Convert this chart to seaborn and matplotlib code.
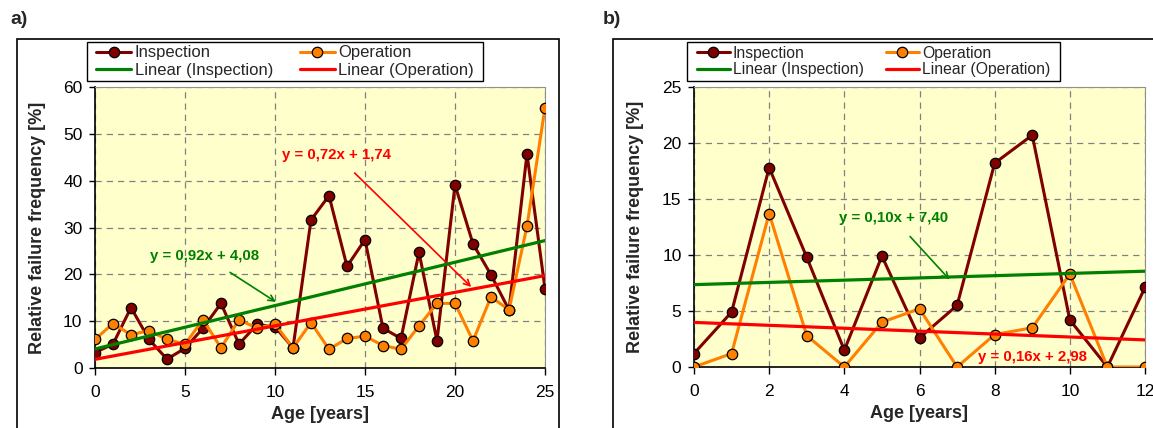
import numpy as np
import seaborn as sns
import matplotlib.pyplot as plt
from matplotlib.patches import Rectangle

sns.set_style('white')
plt.rcParams['font.family'] = ['Liberation Sans', 'DejaVu Sans']

# panel a) data
ages_a = list(range(26))
insp_a = [3.3, 5.1, 12.9, 6.1, 1.9, 4.2, 8.5, 13.8, 5.1, 9.3, 8.8, 4.3, 31.6,
          36.8, 21.7, 27.4, 8.5, 6.3, 24.7, 5.8, 39.1, 26.5, 19.9, 12.4, 45.7, 16.9]
oper_a = [6.1, 9.5, 7.1, 8.0, 6.1, 5.1, 10.3, 4.3, 10.3, 8.5, 9.4, 4.3, 9.7,
          4.0, 6.3, 6.8, 4.8, 4.0, 9.0, 13.8, 13.8, 5.8, 15.2, 12.4, 30.3, 55.6]

# panel b) data
ages_b = list(range(13))
insp_b = [1.2, 4.9, 17.8, 9.8, 1.5, 9.9, 2.6, 5.5, 18.2, 20.7, 4.2, 0.0, 7.1]
oper_b = [0.0, 1.2, 13.7, 2.8, 0.0, 4.0, 5.2, 0.0, 2.9, 3.5, 8.3, 0.0, 0.0]

eq_a = ['y = 0,92x + 4,08', 'y = 0,72x + 1,74']
eq_b = ['y = 0,10x + 7,40', 'y = 0,16x + 2,98']

c_insp = '#800000'
c_oper = '#FF7F00'
c_lin_insp = '#008000'
c_lin_oper = '#FF0000'

fig = plt.figure(figsize=(11.53, 4.28), dpi=100)
W, H = 1153, 428

def px(x0, y0, x1, y1):
    return [x0 / W, 1 - y1 / H, (x1 - x0) / W, (y1 - y0) / H]

# panel frames
for x0, x1 in [(17, 559), (613, 1160)]:
    fig.patches.append(Rectangle((x0 / W, -0.05), (x1 - x0) / W, 1 - 39 / H + 0.05,
                                 transform=fig.transFigure, fill=False,
                                 edgecolor='black', lw=1.2))

ax_a = fig.add_axes(px(95, 87, 545, 368))
ax_b = fig.add_axes(px(694, 87, 1145, 367))


def draw(ax, ages, insp, oper, xmax, ymax, xstep, ystep):
    ax.set_facecolor('#FFFFCC')
    sns.lineplot(x=ages, y=insp, ax=ax, color=c_insp, lw=2.2, marker='o', markersize=7.5,
                 markerfacecolor=c_insp, markeredgecolor='black', markeredgewidth=0.9,
                 label='Inspection', zorder=3)
    sns.lineplot(x=ages, y=oper, ax=ax, color=c_oper, lw=2.2, marker='o', markersize=7.5,
                 markerfacecolor=c_oper, markeredgecolor='black', markeredgewidth=0.9,
                 label='Operation', zorder=3)
    xs = np.array([0, xmax])
    k1, b1 = np.polyfit(ages, insp, 1)
    k2, b2 = np.polyfit(ages, oper, 1)
    sns.lineplot(x=xs, y=k1 * xs + b1, ax=ax, color=c_lin_insp, lw=2.3,
                 label='Linear (Inspection)', zorder=4)
    sns.lineplot(x=xs, y=k2 * xs + b2, ax=ax, color=c_lin_oper, lw=2.3,
                 label='Linear (Operation)', zorder=4)
    ax.set_xlim(0, xmax)
    ax.set_ylim(0, ymax)
    ax.set_xticks(np.arange(0, xmax + 0.1, xstep))
    ax.set_yticks(np.arange(0, ymax + 0.1, ystep))
    ax.grid(True, ls=(0, (5, 4)), color='#808080', lw=0.9)
    ax.set_axisbelow(True)
    for s in ['top', 'right']:
        ax.spines[s].set_color('#909090')
    for s in ['left', 'bottom']:
        ax.spines[s].set_color('black')
        ax.spines[s].set_linewidth(1.2)
    ax.tick_params(axis='x', direction='out', length=5, width=1, labelsize=12.5,
                   colors='black', bottom=True, pad=7)
    ax.tick_params(axis='y', direction='out', length=4, width=1, labelsize=12.5,
                   colors='black', left=True, pad=5)
    ax.set_xlabel('Age [years]', fontsize=13, fontweight='bold')
    ax.set_ylabel('Relative failure frequency [%]', fontsize=13, fontweight='bold')
    ax.legend_.remove()


draw(ax_a, ages_a, insp_a, oper_a, 25, 60, 5, 10)
draw(ax_b, ages_b, insp_b, oper_b, 12, 25, 2, 5)
ax_a.yaxis.set_label_coords(-0.108, 0.5)
ax_b.yaxis.set_label_coords(-0.110, 0.5)
ax_a.xaxis.set_label_coords(0.5, -0.135)
ax_b.xaxis.set_label_coords(0.5, -0.135)

# equations
ax_a.annotate(eq_a[0], xy=(10.05, 14.1), xytext=(6.1, 23.9), ha='center', va='center',
              color=c_lin_insp, fontsize=10.8, fontweight='bold',
              arrowprops=dict(arrowstyle='->', color=c_lin_insp, lw=1.2,
                              shrinkA=8, shrinkB=0))
ax_a.annotate(eq_a[1], xy=(20.9, 17.3), xytext=(13.4, 45.5), ha='center', va='center',
              color=c_lin_oper, fontsize=10.8, fontweight='bold',
              arrowprops=dict(arrowstyle='->', color=c_lin_oper, lw=1.2,
                              shrinkA=8, shrinkB=0))
ax_b.annotate(eq_b[0], xy=(6.8, 7.8), xytext=(5.3, 13.3), ha='center', va='center',
              color=c_lin_insp, fontsize=10.8, fontweight='bold',
              arrowprops=dict(arrowstyle='->', color=c_lin_insp, lw=1.2,
                              shrinkA=8, shrinkB=0))
ax_b.text(9.0, 0.9, eq_b[1], ha='center', va='center', color=c_lin_oper,
          fontsize=10.8, fontweight='bold')

# legends: rows Inspection/Operation, then the two linear fits
handles, labels = ax_a.get_legend_handles_labels()
order = [0, 2, 1, 3]
handles = [handles[i] for i in order]
labels = [labels[i] for i in order]
for x0, x1, fs, cs in [(87, 483, 12, 1.6), (687, 1060, 11.3, 1.4)]:
    fig.patches.append(Rectangle((x0 / W, 1 - 81 / H), (x1 - x0) / W, 39 / H,
                                 transform=fig.transFigure, facecolor='white',
                                 edgecolor='black', lw=1.0, zorder=5))
    fig.legend(handles, labels, ncol=2, loc='center',
               bbox_to_anchor=((x0 + x1) / 2 / W, 1 - 61.5 / H),
               fontsize=fs, frameon=False, borderpad=0, labelspacing=0.12,
               handlelength=2.1, handletextpad=0.2, columnspacing=cs)

fig.text(10 / W, 1 - 20 / H, 'a)', fontsize=14, fontweight='bold', va='center')
fig.text(603 / W, 1 - 20 / H, 'b)', fontsize=14, fontweight='bold', va='center')

fig.savefig('out.png', dpi=100)
